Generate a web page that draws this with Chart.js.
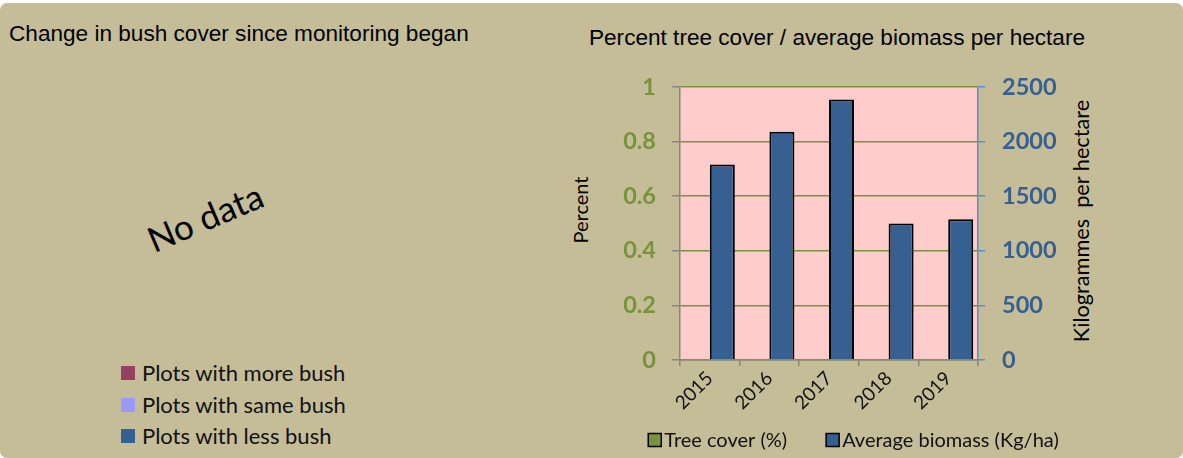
<!DOCTYPE html>
<html>
<head>
<meta charset="utf-8">
<script src="https://cdn.jsdelivr.net/npm/chart.js@4.4.1/dist/chart.umd.min.js"></script>
<style>
  html, body { margin: 0; padding: 0; background: #fff; width: 1183px; height: 458px; overflow: hidden; }
  #panel { position: absolute; left: 0; top: 3px; width: 1183px; height: 455px; background: #C4BD97; border-radius: 7px; }
  .txt { position: absolute; white-space: nowrap; color: #000; line-height: 1; }
  .title { font-family: "Liberation Sans", Arial, sans-serif; font-size: 22.6px; }
  .lato { font-family: Lato, sans-serif; }
  #bushLegend .item { position: absolute; left: 121px; height: 22px; font-family: Lato, sans-serif; font-size: 22px; color: #111; white-space: nowrap; }
  #bushLegend .sw { position: absolute; left: 0; top: 4px; width: 14px; height: 14px; }
  #bushLegend .lb { position: absolute; left: 21px; top: 0; line-height: 22px; }
  #wrap { position: absolute; left: 560px; top: 0; width: 623px; height: 458px; }
</style>
</head>
<body>
<div id="panel"></div>

<div class="txt title" style="left:9px; top:23px;">Change in bush cover since monitoring began</div>
<div class="txt lato" id="nodata" style="left:205px; top:217px; font-size:35px; transform: translate(-50%,-50%) rotate(-23deg);">No data</div>
<div id="bushLegend"></div>

<div class="txt title" id="rtitle" style="left:837px; top:27px; transform: translateX(-50%);">Percent tree cover / average biomass per hectare</div>
<div class="txt lato" style="left:580px; top:210px; font-size:20px; transform: translate(-50%,-50%) rotate(-90deg);">Percent</div>
<div class="txt lato" style="left:1082px; top:221px; font-size:21.7px; transform: translate(-50%,-50%) rotate(-90deg);">Kilogrammes&nbsp; per hectare</div>

<div id="wrap"><canvas id="chart" width="623" height="458"></canvas></div>

<script>
// left panel (no data, legend only)
const bushLabels = ["Plots with more bush", "Plots with same bush", "Plots with less bush"];
const bushColors = ["#953F63", "#9999FF", "#376092"];

// right panel
const years = ["2015", "2016", "2017", "2018", "2019"];
const treeCover = [null, null, null, null, null];
const biomass = [1790, 2090, 2385, 1250, 1290];
const percentTicks = ["0", "0.2", "0.4", "0.6", "0.8", "1"];
const biomassTicks = ["0", "500", "1000", "1500", "2000", "2500"];

const legendBox = document.getElementById("bushLegend");
const rowTops = [362, 394, 425];
bushLabels.forEach((name, i) => {
  const item = document.createElement("div");
  item.className = "item";
  item.style.top = rowTops[i] + "px";
  item.innerHTML = '<span class="sw" style="background:' + bushColors[i] + '"></span><span class="lb">' + name + "</span>";
  legendBox.appendChild(item);
});

const plotBg = {
  id: "plotBg",
  beforeDraw(chart) {
    const a = chart.chartArea;
    const ctx = chart.ctx;
    ctx.save();
    ctx.fillStyle = "#FFCCCC";
    ctx.fillRect(a.left, a.top, a.right - a.left, a.bottom - a.top);
    ctx.restore();
  }
};

// excel style legend under the chart
const bottomLegend = {
  id: "bottomLegend",
  afterDraw(chart) {
    const ctx = chart.ctx;
    const box = 13, gapText = 3, gapItem = 39;
    ctx.save();
    ctx.font = "20px Lato";
    const items = chart.data.datasets.map(ds => ({ text: ds.label, color: ds.backgroundColor, w: ctx.measureText(ds.label).width }));
    let total = 0;
    items.forEach((it, i) => { total += box + gapText + it.w + (i ? gapItem : 0); });
    let x = 293.5 - total / 2;
    const cy = 440;
    items.forEach(it => {
      ctx.fillStyle = it.color;
      ctx.fillRect(x, cy - box / 2, box, box);
      ctx.strokeStyle = "#000";
      ctx.lineWidth = 1.5;
      ctx.strokeRect(x, cy - box / 2, box, box);
      ctx.fillStyle = "#111";
      ctx.textBaseline = "middle";
      ctx.fillText(it.text, x + box + gapText, cy + 1);
      x += box + gapText + it.w + gapItem;
    });
    ctx.restore();
  }
};

new Chart(document.getElementById("chart"), {
  type: "bar",
  data: {
    labels: years,
    datasets: [
      {
        label: "Tree cover (%)",
        data: treeCover,
        yAxisID: "y",
        backgroundColor: "#77933C",
        borderColor: "#000",
        borderWidth: 2
      },
      {
        label: "Average biomass (Kg/ha)",
        data: biomass,
        yAxisID: "y1",
        backgroundColor: "#376092",
        borderColor: "#000",
        borderWidth: 2
      }
    ]
  },
  options: {
    responsive: false,
    animation: false,
    categoryPercentage: 0.84,
    barPercentage: 1.0,
    layout: { padding: { top: 87, left: 0, right: 105, bottom: 0 } },
    plugins: {
      legend: { display: false },
      tooltip: { enabled: false }
    },
    scales: {
      x: {
        grid: { offset: true, drawOnChartArea: false, tickLength: 6, tickColor: "#868686", lineWidth: 1.5 },
        border: { color: "#868686", width: 1.5, z: 1 },
        ticks: { minRotation: 45, maxRotation: 45, color: "#111", padding: 1, font: { family: "Lato", size: 19 } },
        afterFit: s => { s.height = 98; }
      },
      y: {
        position: "left",
        min: 0,
        max: 1,
        ticks: {
          stepSize: 0.2,
          color: "#77933C",
          padding: 16,
          font: { family: "Lato", size: 23.5, weight: "bold" },
          callback: (v, i) => percentTicks[i]
        },
        grid: { color: "#77933C", lineWidth: 1.5, tickColor: "#868686", tickLength: 8 },
        border: { color: "#868686", width: 1.5 },
        afterFit: s => { s.width = 120; }
      },
      y1: {
        position: "right",
        min: 0,
        max: 2500,
        ticks: {
          stepSize: 500,
          color: "#376092",
          padding: 17,
          font: { family: "Lato", size: 23.5, weight: "bold" },
          callback: (v, i) => biomassTicks[i]
        },
        grid: { drawOnChartArea: false, tickColor: "#558ED5", tickLength: 7, lineWidth: 1.5 },
        border: { color: "#558ED5", width: 1.5 },
        afterFit: s => { s.width = 100; }
      }
    }
  },
  plugins: [plotBg, bottomLegend]
});
</script>
</body>
</html>
